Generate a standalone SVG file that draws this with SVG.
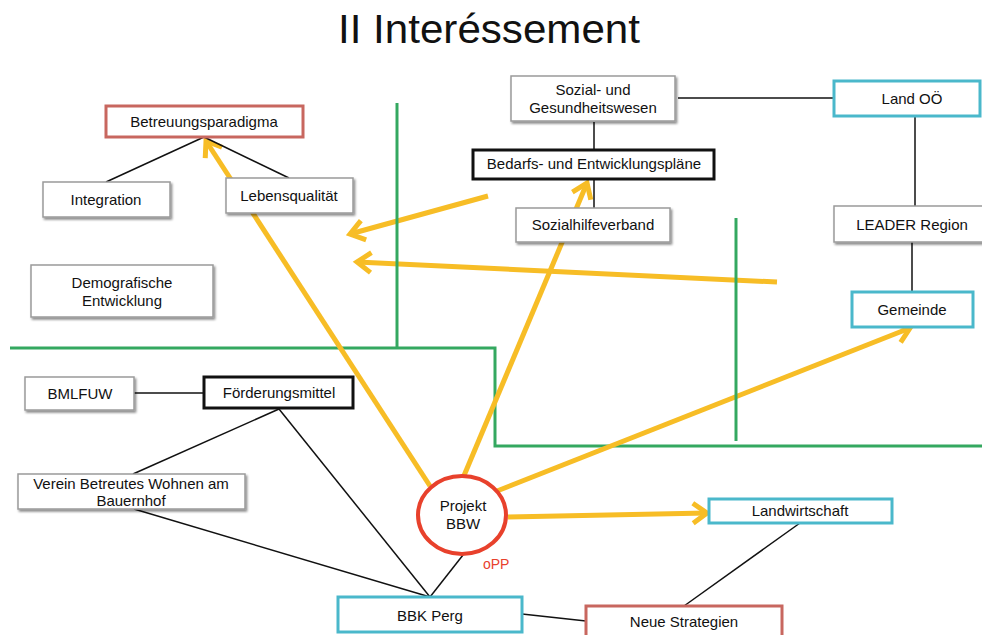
<svg xmlns="http://www.w3.org/2000/svg" width="982" height="635" viewBox="0 0 982 635">
  <defs>
    <style>
      text { font-family: "Liberation Sans", Arial, sans-serif; fill: #111; }
      .lbl { font-size: 15px; text-anchor: middle; }
      .title { font-size: 41px; text-anchor: middle; }
      .box { fill: #fff; stroke: #9a9a9a; stroke-width: 1.5; }
      .shadow { filter: url(#shade); }
      .red { fill: #fff; stroke: #c8675f; stroke-width: 3; }
      .cyan { fill: #fff; stroke: #4ab8cb; stroke-width: 3; }
      .thick { fill: #fff; stroke: #111; stroke-width: 3; }
      .link { stroke: #111; stroke-width: 1.5; fill: none; }
      .zone { stroke: #34a860; stroke-width: 3; fill: none; }
      .flow { stroke: #f7bd26; stroke-width: 5; fill: none; marker-end: url(#chev); }
    </style>
    <filter id="shade" x="-10%" y="-20%" width="130%" height="160%">
      <feDropShadow dx="1.5" dy="2" stdDeviation="1.2" flood-color="#000" flood-opacity="0.45"/>
    </filter>
    <marker id="chev" markerUnits="userSpaceOnUse" markerWidth="26" markerHeight="26" viewBox="0 0 26 26" refX="21" refY="13" orient="auto">
      <path d="M7,3 L21,13 L7,23" fill="none" stroke="#f7bd26" stroke-width="5" stroke-linejoin="miter"/>
    </marker>
  </defs>

  <rect width="982" height="635" fill="#fff"/>

  <text class="title" x="489" y="43" textLength="302" lengthAdjust="spacingAndGlyphs">II Interéssement</text>

  <!-- area boundaries -->
  <g id="zones">
    <polyline class="zone" points="10,348 495,348 495,446 982,446"/>
  </g>

  <!-- influence arrows -->
  <g id="arrows">
    <line class="flow" x1="430" y1="486" x2="206" y2="141"/>
    <line class="flow" x1="463" y1="478" x2="587" y2="183"/>
    <line class="flow" x1="488" y1="196" x2="350" y2="234"/>
    <line class="flow" x1="777" y1="282" x2="357" y2="262"/>
    <line class="flow" x1="497" y1="491" x2="910" y2="328"/>
    <line class="flow" x1="508" y1="517" x2="707" y2="513"/>
  </g>

  <g id="zones-upper">
    <line class="zone" x1="397" y1="103" x2="397" y2="348"/>
    <line class="zone" x1="736" y1="218" x2="736" y2="441"/>
  </g>

  <!-- relations -->
  <g id="connectors">
    <line class="link" x1="204" y1="137" x2="106" y2="182"/>
    <line class="link" x1="204" y1="137" x2="289" y2="178"/>
    <line class="link" x1="678" y1="98" x2="834" y2="98"/>
    <line class="link" x1="594" y1="122" x2="594" y2="150"/>
    <line class="link" x1="594" y1="179" x2="594" y2="208"/>
    <line class="link" x1="915" y1="117" x2="915" y2="206"/>
    <line class="link" x1="912" y1="242" x2="912" y2="291"/>
    <line class="link" x1="134" y1="393" x2="204" y2="393"/>
    <line class="link" x1="279" y1="409" x2="133" y2="474"/>
    <line class="link" x1="279" y1="409" x2="430" y2="597"/>
    <line class="link" x1="134" y1="509" x2="430" y2="597"/>
    <line class="link" x1="463" y1="555" x2="430" y2="597"/>
    <line class="link" x1="522" y1="614" x2="586" y2="621"/>
    <line class="link" x1="800" y1="523" x2="684" y2="606"/>
  </g>

  <g id="n-betreuungsparadigma">
    <rect class="red" x="106" y="106" width="197" height="31"/>
    <text class="lbl" x="204" y="127">Betreuungsparadigma</text>
  </g>
  <g id="n-integration">
    <rect class="box shadow" x="43" y="182" width="127" height="35"/>
    <text class="lbl" x="106" y="205">Integration</text>
  </g>
  <g id="n-lebensqualitaet">
    <rect class="box shadow" x="226" y="178" width="127" height="35"/>
    <text class="lbl" x="289" y="201">Lebensqualität</text>
  </g>
  <g id="n-demografie">
    <rect class="box shadow" x="31" y="265" width="182" height="52"/>
    <text class="lbl" x="122" y="288">Demografische</text>
    <text class="lbl" x="122" y="306">Entwicklung</text>
  </g>
  <g id="n-sozialwesen">
    <rect class="box shadow" x="511" y="76" width="164" height="45"/>
    <text class="lbl" x="593" y="95">Sozial- und</text>
    <text class="lbl" x="593" y="113">Gesundheitswesen</text>
  </g>
  <g id="n-bedarfsplaene">
    <rect class="thick" x="473" y="150" width="241" height="29"/>
    <text class="lbl" x="594" y="169">Bedarfs- und Entwicklungspläne</text>
  </g>
  <g id="n-sozialhilfeverband">
    <rect class="box shadow" x="516" y="208" width="154" height="34"/>
    <text class="lbl" x="593" y="230">Sozialhilfeverband</text>
  </g>
  <g id="n-land">
    <rect class="cyan" x="834" y="81" width="146" height="35"/>
    <text class="lbl" x="912" y="104">Land OÖ</text>
  </g>
  <g id="n-leader">
    <rect class="box shadow" x="834" y="206" width="150" height="36"/>
    <text class="lbl" x="912" y="230">LEADER Region</text>
  </g>
  <g id="n-gemeinde">
    <rect class="cyan" x="852" y="292" width="121" height="35"/>
    <text class="lbl" x="912" y="315">Gemeinde</text>
  </g>
  <g id="n-bmlfuw">
    <rect class="box shadow" x="25" y="377" width="109" height="33"/>
    <text class="lbl" x="80" y="399">BMLFUW</text>
  </g>
  <g id="n-foerderung">
    <rect class="thick" x="204" y="377" width="149" height="31"/>
    <text class="lbl" x="279" y="398">Förderungsmittel</text>
  </g>
  <g id="n-verein">
    <rect class="box shadow" x="18" y="474" width="227" height="35"/>
    <text class="lbl" x="131" y="489">Verein Betreutes Wohnen am</text>
    <text class="lbl" x="131" y="506">Bauernhof</text>
  </g>
  <g id="n-projekt">
    <ellipse cx="462" cy="515" rx="44" ry="39" fill="#fff" stroke="#e8412c" stroke-width="4"/>
    <text class="lbl" x="463" y="511">Projekt</text>
    <text class="lbl" x="463" y="529">BBW</text>
    <text x="483" y="569" style="font-size:14px; fill:#e8412c">oPP</text>
  </g>
  <g id="n-landwirtschaft">
    <rect class="cyan" x="709" y="499" width="183" height="24"/>
    <text class="lbl" x="800" y="516">Landwirtschaft</text>
  </g>
  <g id="n-bbk">
    <rect class="cyan" x="338" y="597" width="184" height="35"/>
    <text class="lbl" x="430" y="621">BBK Perg</text>
  </g>
  <g id="n-strategien">
    <rect class="red" x="586" y="606" width="196" height="34"/>
    <text class="lbl" x="684" y="627">Neue Strategien</text>
  </g>
</svg>
